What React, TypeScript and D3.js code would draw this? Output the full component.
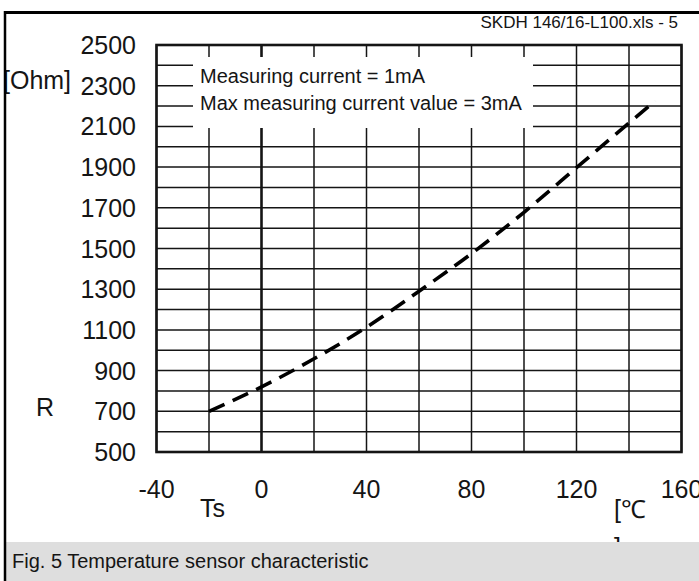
import React, { useEffect, useRef } from 'react';
import * as d3 from 'd3';

// Sensor curve: temperature [°C] vs resistance [Ohm]
const temps = [-20, 0, 20, 40, 60, 80, 100, 120, 140, 150];
const resistance = [700, 820, 958, 1113, 1290, 1475, 1678, 1897, 2117, 2226];

const xTickValues = [-40, 0, 40, 80, 120, 160];
const yTickValues = [500, 700, 900, 1100, 1300, 1500, 1700, 1900, 2100, 2300, 2500];
const xGridValues = [-40, -20, 0, 20, 40, 60, 80, 100, 120, 140, 160];
const yGridValues = [
  500, 600, 700, 800, 900, 1000, 1100, 1200, 1300, 1400, 1500,
  1600, 1700, 1800, 1900, 2000, 2100, 2200, 2300, 2400, 2500,
];

const noteLines = ['Measuring current = 1mA', 'Max measuring current value = 3mA'];
const sourceLabel = 'SKDH 146/16-L100.xls - 5';
const captionText = 'Fig. 5 Temperature sensor characteristic';

const FONT = '"Liberation Sans", Arial, Helvetica, sans-serif';
const INK = '#151515';

export default function App() {
  const ref = useRef<SVGSVGElement | null>(null);

  useEffect(() => {
    if (!ref.current) return;
    const root = d3.select(ref.current);
    root.selectAll('*').remove();

    const width = 699;
    const height = 581;
    const plot = { left: 156.5, right: 681.5, top: 45, bottom: 452 };

    root.append('rect').attr('width', width).attr('height', height).attr('fill', '#ffffff');

    const x = d3.scaleLinear().domain([-40, 160]).range([plot.left, plot.right]);
    const y = d3.scaleLinear().domain([500, 2500]).range([plot.bottom, plot.top]);

    // grid
    const grid = root.append('g').attr('stroke', INK).attr('stroke-width', 1.5);
    grid.selectAll('line.h')
      .data(yGridValues)
      .join('line')
      .attr('class', 'h')
      .attr('x1', plot.left)
      .attr('x2', plot.right)
      .attr('y1', d => y(d))
      .attr('y2', d => y(d));
    grid.selectAll('line.v')
      .data(xGridValues)
      .join('line')
      .attr('class', 'v')
      .attr('x1', d => x(d))
      .attr('x2', d => x(d))
      .attr('y1', plot.top)
      .attr('y2', plot.bottom)
      .attr('stroke-width', d => (d === 0 ? 2.6 : 1.5));

    // plot frame
    root.append('rect')
      .attr('x', plot.left)
      .attr('y', plot.top)
      .attr('width', plot.right - plot.left)
      .attr('height', plot.bottom - plot.top)
      .attr('fill', 'none')
      .attr('stroke', INK)
      .attr('stroke-width', 2.6);

    // note box hides the grid behind it
    root.append('rect')
      .attr('x', 193)
      .attr('y', 57)
      .attr('width', 340)
      .attr('height', 71)
      .attr('fill', '#ffffff');
    root.selectAll('text.note')
      .data(noteLines)
      .join('text')
      .attr('class', 'note')
      .attr('x', 200)
      .attr('y', (_, i) => 83 + i * 27)
      .attr('fill', INK)
      .style('font-family', FONT)
      .style('font-size', '20px')
      .text(d => d);

    // curve
    const line = d3.line<number>()
      .x((_, i) => x(temps[i]))
      .y(d => y(d))
      .curve(d3.curveMonotoneX);
    root.append('path')
      .datum(resistance)
      .attr('d', line)
      .attr('fill', 'none')
      .attr('stroke', '#000')
      .attr('stroke-width', 3.6)
      .attr('stroke-dasharray', '17,9');

    // y tick labels
    root.selectAll('text.ytick')
      .data(yTickValues)
      .join('text')
      .attr('class', 'ytick')
      .attr('x', 136)
      .attr('y', d => y(d) + 9)
      .attr('text-anchor', 'end')
      .attr('fill', INK)
      .style('font-family', FONT)
      .style('font-size', '25px')
      .text(d => String(d));

    // x tick labels
    root.selectAll('text.xtick')
      .data(xTickValues)
      .join('text')
      .attr('class', 'xtick')
      .attr('x', d => x(d))
      .attr('y', 498)
      .attr('text-anchor', 'middle')
      .attr('fill', INK)
      .style('font-family', FONT)
      .style('font-size', '25px')
      .text(d => String(d));

    const label = (tx: number, ty: number, s: string, size = 25) =>
      root.append('text')
        .attr('x', tx)
        .attr('y', ty)
        .attr('fill', INK)
        .style('font-family', FONT)
        .style('font-size', `${size}px`)
        .text(s);

    label(3, 89, '[Ohm]');
    label(36, 416, 'R');
    label(200, 517, 'Ts');
    label(614, 518, '[℃');
    label(614, 556, ']');

    // source tag top right
    root.append('text')
      .attr('x', 678)
      .attr('y', 28)
      .attr('text-anchor', 'end')
      .attr('fill', INK)
      .style('font-family', FONT)
      .style('font-size', '17px')
      .text(sourceLabel);

    // caption band
    root.append('rect')
      .attr('x', 6)
      .attr('y', 542)
      .attr('width', width - 6)
      .attr('height', height - 542)
      .attr('fill', '#dedede');
    root.append('text')
      .attr('x', 12)
      .attr('y', 568)
      .attr('fill', INK)
      .style('font-family', FONT)
      .style('font-size', '20px')
      .text(captionText);

    // outer frame (top and left only)
    root.append('line')
      .attr('x1', 4).attr('x2', width)
      .attr('y1', 12.5).attr('y2', 12.5)
      .attr('stroke', '#000').attr('stroke-width', 3);
    root.append('line')
      .attr('x1', 5).attr('x2', 5)
      .attr('y1', 11).attr('y2', height)
      .attr('stroke', '#000').attr('stroke-width', 2.5);
  }, []);

  return (
    <svg
      ref={ref}
      width={699}
      height={581}
      style={{ position: 'absolute', left: 0, top: 0, display: 'block' }}
    />
  );
}
